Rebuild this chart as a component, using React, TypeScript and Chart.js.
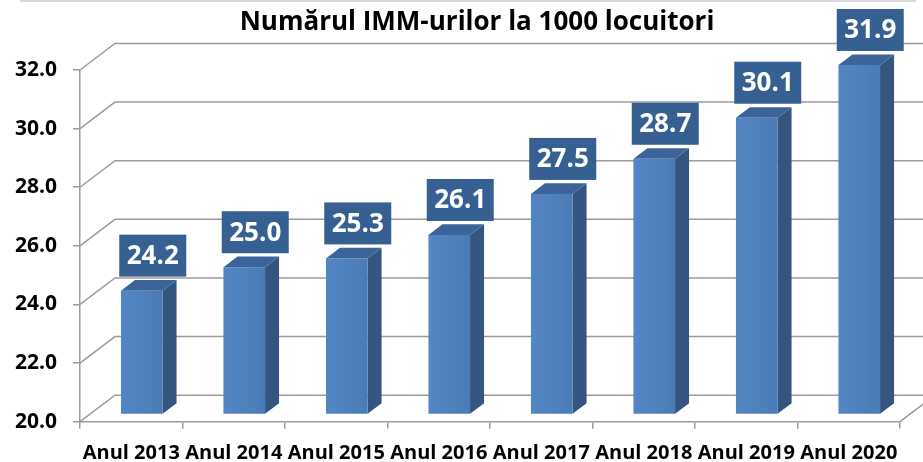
import { useEffect, useRef } from "react";
import { Chart, registerables } from "chart.js";

Chart.register(...registerables);

const title = "Numărul IMM-urilor la 1000 locuitori";
const categories = ["Anul 2013", "Anul 2014", "Anul 2015", "Anul 2016", "Anul 2017", "Anul 2018", "Anul 2019", "Anul 2020"];
const values = [24.2, 25.0, 25.3, 26.1, 27.5, 28.7, 30.1, 31.9];
const yTicks = [20, 22, 24, 26, 28, 30, 32];

const FONT = "'Open Sans', Lato, sans-serif";
const GRID = "#9c9c9c";
const FRONT = "#4f81bd";
const SIDE = "#34557f";
const TOP = "#3d6499";
const LABEL_BG = "#376092";

// 3D depth projection (oblique)
const DX = 35;
const DY = 26.5;
const D0 = 0.3;
const D1 = 0.7;

const threeD = {
  id: "threeD",
  beforeDatasetsDraw(chart: any) {
    const { ctx, chartArea: a, scales } = chart;
    const y = scales.y;
    ctx.save();
    // top border
    ctx.strokeStyle = "#d9d9d9";
    ctx.lineWidth = 2;
    ctx.beginPath();
    ctx.moveTo(20, 1);
    ctx.lineTo(916, 1);
    ctx.stroke();

    ctx.strokeStyle = GRID;
    ctx.lineWidth = 1.5;
    for (const v of yTicks) {
      const py = y.getPixelForValue(v);
      ctx.beginPath();
      ctx.moveTo(a.left, py);
      ctx.lineTo(a.left + DX, py - DY);
      ctx.lineTo(a.right + DX, py - DY);
      ctx.stroke();
    }
    const pb = y.getPixelForValue(yTicks[0]);
    ctx.beginPath();
    ctx.moveTo(a.right, pb);
    ctx.lineTo(a.right + DX, pb - DY);
    ctx.stroke();
    ctx.restore();
  },
  afterDatasetsDraw(chart: any) {
    const { ctx, scales } = chart;
    const yScale = scales.y;
    const meta = chart.getDatasetMeta(0);
    ctx.save();
    meta.data.forEach((bar: any, i: number) => {
      const p = bar.getProps(["x", "width"], true);
      const ox = DX * D0;
      const oy = DY * D0;
      const x0 = p.x - p.width / 2 + ox;
      const x1 = p.x + p.width / 2 + ox;
      const yt = yScale.getPixelForValue(values[i]) - oy;
      const yb = yScale.getPixelForValue(yScale.min) - oy;
      const sx = DX * (D1 - D0);
      const sy = DY * (D1 - D0);

      // side
      ctx.fillStyle = SIDE;
      ctx.beginPath();
      ctx.moveTo(x1, yt);
      ctx.lineTo(x1 + sx, yt - sy);
      ctx.lineTo(x1 + sx, yb - sy);
      ctx.lineTo(x1, yb);
      ctx.closePath();
      ctx.fill();
      // top
      ctx.fillStyle = TOP;
      ctx.beginPath();
      ctx.moveTo(x0, yt);
      ctx.lineTo(x1, yt);
      ctx.lineTo(x1 + sx, yt - sy);
      ctx.lineTo(x0 + sx, yt - sy);
      ctx.closePath();
      ctx.fill();
      // front
      const g = ctx.createLinearGradient(x0, 0, x1, 0);
      g.addColorStop(0, "#5286c4");
      g.addColorStop(0.5, FRONT);
      g.addColorStop(1, "#4a7bb7");
      ctx.fillStyle = g;
      ctx.fillRect(x0, yt, x1 - x0, yb - yt);

      // label
      const bw = 67;
      const bh = 42;
      const cx = (x0 + x1) / 2 + 11;
      const by = yt - 14 - bh;
      ctx.fillStyle = LABEL_BG;
      ctx.fillRect(cx - bw / 2, by, bw, bh);
      ctx.fillStyle = "#ffffff";
      ctx.font = `bold 26px ${FONT}`;
      ctx.textAlign = "center";
      ctx.textBaseline = "middle";
      ctx.fillText(values[i].toFixed(1), cx, by + bh / 2 + 1);
    });
    ctx.restore();
  },
  afterDraw(chart: any) {
    const { ctx } = chart;
    ctx.save();
    ctx.fillStyle = "#000";
    ctx.font = `bold 26px ${FONT}`;
    ctx.textAlign = "center";
    ctx.textBaseline = "middle";
    ctx.fillText(title, 477, 23);
    ctx.restore();
  },
};

export default function App() {
  const ref = useRef<HTMLCanvasElement>(null);
  useEffect(() => {
    if (!ref.current) return;
    const chart = new Chart(ref.current, {
      type: "bar",
      data: {
        labels: categories,
        datasets: [
          {
            data: values,
            backgroundColor: "rgba(0,0,0,0)",
            borderWidth: 0,
            barPercentage: 0.406,
            categoryPercentage: 1,
          },
        ],
      },
      options: {
        animation: false,
        responsive: false,
        layout: { padding: { top: 70, right: 23, left: 0, bottom: 0 } },
        plugins: { legend: { display: false }, tooltip: { enabled: false }, title: { display: false } },
        scales: {
          x: {
            type: "category",
            grid: { display: true, drawOnChartArea: false, drawTicks: true, tickLength: 7, color: GRID, lineWidth: 1.5, offset: true },
            border: { display: true, color: GRID, width: 1.5 },
            ticks: { color: "#000", font: { family: FONT, weight: "bold", size: 20 }, padding: 13, maxRotation: 0, autoSkip: false },
            afterFit: (s: any) => {
              s.height = 40.3;
            },
          },
          y: {
            type: "linear",
            min: 20,
            max: 32,
            grid: { display: true, drawOnChartArea: false, drawTicks: true, tickLength: 7, color: GRID, lineWidth: 1.5 },
            border: { display: true, color: GRID, width: 1.5 },
            ticks: {
              stepSize: 2,
              color: "#000",
              font: { family: FONT, weight: "bold", size: 21 },
              padding: 16,
              callback: (v: any) => Number(v).toFixed(1),
            },
            afterFit: (s: any) => {
              s.width = 80;
            },
          },
        },
      },
      plugins: [threeD],
    });
    return () => chart.destroy();
  }, []);
  return (
    <div style={{ position: "fixed", left: 0, top: 0, width: 923, height: 462, background: "#fff" }}>
      <canvas ref={ref} width={923} height={462} />
    </div>
  );
}
